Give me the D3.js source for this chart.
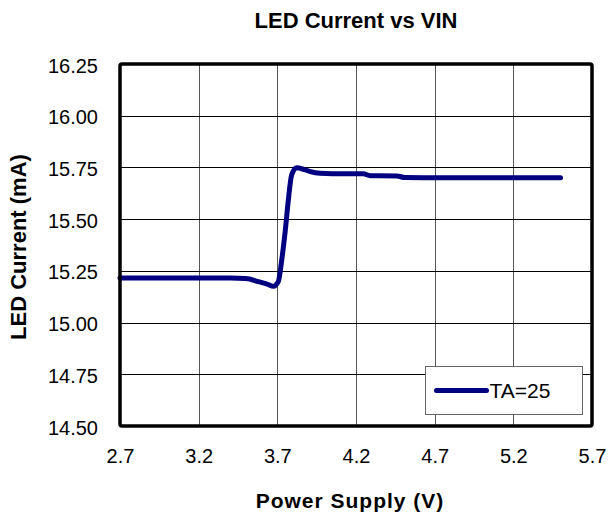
<!DOCTYPE html>
<html>
<head>
<meta charset="utf-8">
<script src="https://cdn.jsdelivr.net/npm/d3@7"></script>
<style>
  body { margin: 0; background: #fff; }
  svg { display: block; font-family: "Liberation Sans", Arial, sans-serif; }
</style>
</head>
<body>
<svg id="chart"></svg>
<script>
// Data
const vin = [2.7, 2.8, 3.0, 3.2, 3.4, 3.5, 3.58, 3.64, 3.675, 3.706, 3.728, 3.749, 3.77, 3.791, 3.823,
             3.87, 3.91, 3.97, 4.05, 4.15, 4.247, 4.29, 4.35, 4.46, 4.51, 4.7, 5.0, 5.2, 5.5];
const ledCurrent = [15.215, 15.215, 15.215, 15.215, 15.215, 15.213, 15.198, 15.185, 15.175, 15.198, 15.303, 15.434, 15.593, 15.714, 15.748,
                    15.74, 15.73, 15.722, 15.72, 15.72, 15.719, 15.71, 15.71, 15.709, 15.701, 15.70, 15.70, 15.70, 15.70];
const xTicks = [2.7, 3.2, 3.7, 4.2, 4.7, 5.2, 5.7];
const yTicks = [14.50, 14.75, 15.00, 15.25, 15.50, 15.75, 16.00, 16.25];
const seriesName = 'TA=25';

const width = 609, height = 518;
const margin = { top: 64, right: 17, bottom: 92, left: 120 };
const inner = { w: width - margin.left - margin.right, h: height - margin.top - margin.bottom };

const svg = d3.select('#chart').attr('width', width).attr('height', height);
const g = svg.append('g').attr('transform', `translate(${margin.left},${margin.top})`);

const x = d3.scaleLinear().domain([2.7, 5.7]).range([0, inner.w]);
const y = d3.scaleLinear().domain([14.5, 16.25]).range([inner.h, 0]);

// Grid lines
g.append('g')
    .selectAll('line')
    .data(xTicks.slice(1, -1))
    .join('line')
    .attr('x1', d => Math.round(x(d)) + 0.5).attr('x2', d => Math.round(x(d)) + 0.5)
    .attr('y1', 0).attr('y2', inner.h)
    .attr('stroke', '#555')
    .attr('stroke-width', 1);

g.append('g')
    .selectAll('line')
    .data(yTicks.slice(1, -1))
    .join('line')
    .attr('x1', 0).attr('x2', inner.w)
    .attr('y1', d => Math.round(y(d)) + 0.5).attr('y2', d => Math.round(y(d)) + 0.5)
    .attr('stroke', '#000')
    .attr('stroke-width', 1);

// Axes (labels only)
const xAxis = g.append('g')
    .attr('transform', `translate(0,${inner.h})`)
    .call(d3.axisBottom(x).tickValues(xTicks).tickFormat(d3.format('.1f')).tickSize(0).tickPadding(23));
xAxis.select('.domain').remove();
xAxis.selectAll('text').style('font-size', '20px').attr('fill', '#000');

const yAxis = g.append('g')
    .call(d3.axisLeft(y).tickValues(yTicks).tickFormat(d3.format('.2f')).tickSize(0).tickPadding(22));
yAxis.select('.domain').remove();
yAxis.selectAll('text').style('font-size', '20px').attr('fill', '#000').attr('dy', '0.4em');

// Series
const line = d3.line().x(d => x(d[0])).y(d => y(d[1])).curve(d3.curveMonotoneX);
g.append('path')
    .datum(d3.zip(vin, ledCurrent))
    .attr('d', line)
    .attr('fill', 'none')
    .attr('stroke', '#000080')
    .attr('stroke-width', 5)
    .attr('stroke-linejoin', 'round')
    .attr('stroke-linecap', 'round');

// Frame
g.append('rect')
    .attr('x', 0).attr('y', 0)
    .attr('width', inner.w).attr('height', inner.h)
    .attr('rx', 2)
    .attr('fill', 'none')
    .attr('stroke', '#000')
    .attr('stroke-width', 3.5);

// Legend
const legend = svg.append('g').attr('transform', 'translate(425.5,366.5)');
legend.append('rect')
    .attr('width', 157).attr('height', 48)
    .attr('fill', '#fff')
    .attr('stroke', '#666')
    .attr('stroke-width', 1);
legend.append('line')
    .attr('x1', 11).attr('x2', 61)
    .attr('y1', 24).attr('y2', 24)
    .attr('stroke', '#000080')
    .attr('stroke-width', 5)
    .attr('stroke-linecap', 'round');
legend.append('text')
    .attr('x', 64).attr('y', 31)
    .style('font-size', '21px')
    .text(seriesName);

// Titles
svg.append('text')
    .attr('x', 356).attr('y', 28)
    .attr('text-anchor', 'middle')
    .style('font-size', '22px').style('font-weight', 'bold')
    .text('LED Current vs VIN');

svg.append('text')
    .attr('x', 350).attr('y', 508)
    .attr('text-anchor', 'middle')
    .style('font-size', '21px').style('font-weight', 'bold')
    .style('letter-spacing', '1px')
    .text('Power Supply (V)');

svg.append('text')
    .attr('transform', 'translate(26,247) rotate(-90)')
    .attr('text-anchor', 'middle')
    .style('font-size', '22px').style('font-weight', 'bold')
    .text('LED Current (mA)');
</script>
</body>
</html>
